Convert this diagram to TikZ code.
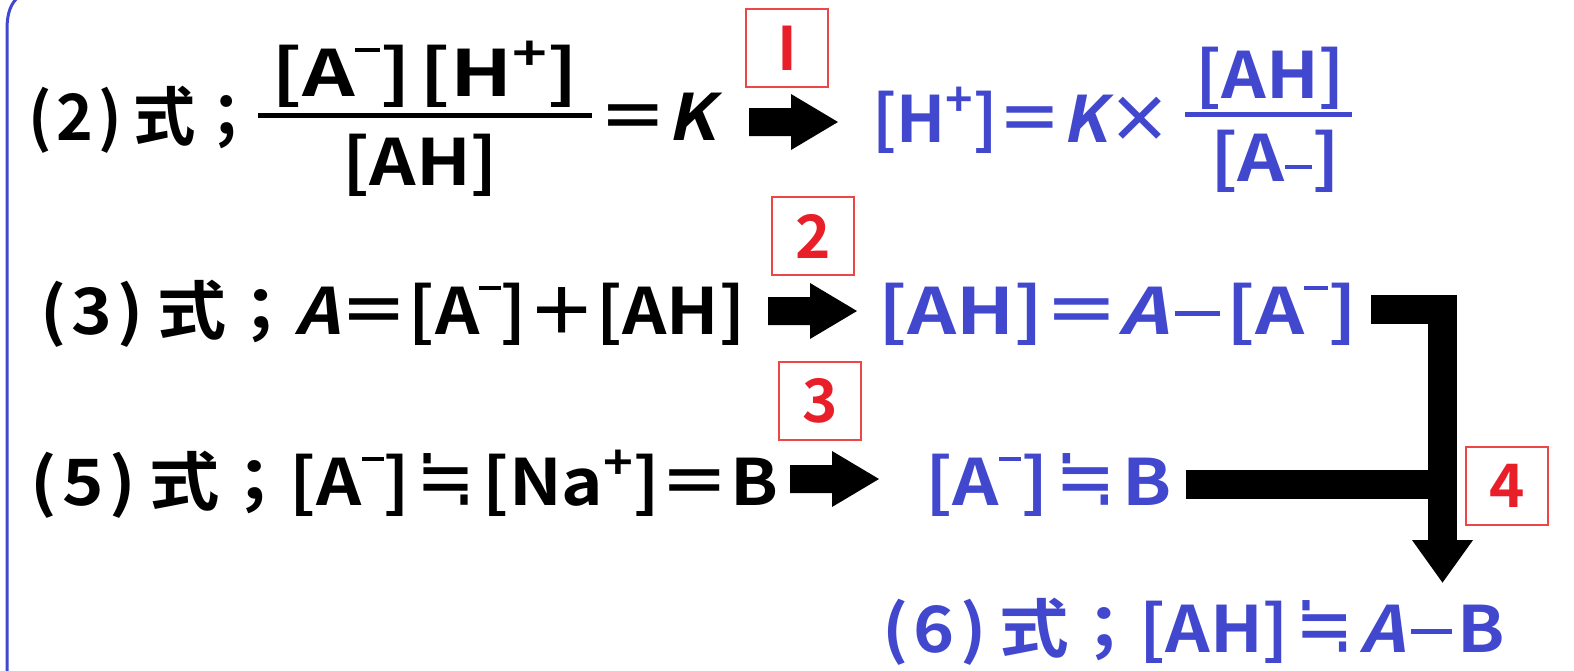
\documentclass[tikz,border=0pt]{standalone}
\usepackage{fontspec}
\usepackage{graphicx}
\usetikzlibrary{arrows.meta,calc}
\newfontfamily\jp{Noto Sans CJK JP Bold}
\newfontfamily\jpsl{Noto Sans CJK JP Bold}[FakeSlant=0.2]
\newfontfamily\dv{DejaVu Sans}
\newcommand\It[1]{{\jpsl #1}}
\newcommand\approxeq{\kern6pt\scalebox{1}[1.3]{\dv ≒}\kern6pt}
\newcommand\minusbar{\kern5pt\raisebox{18pt}{\rule{38pt}{5pt}}\kern5pt}
\newcommand\supminus{\raisebox{44pt}{\rule{20pt}{4pt}}}
\newcommand\supplus{\raisebox{26pt}{\fontsize{46}{46}\selectfont +}}
\newcommand\subminus{\raisebox{12pt}{\rule{24pt}{4pt}}}
\newcommand\lab[1]{(\kern5pt #1\kern5pt)\kern12pt式；}
\newcommand\fitw[2]{\resizebox{#1pt}{\height}{#2}}
\definecolor{tblue}{RGB}{66,72,206}
\definecolor{boxred}{RGB}{238,70,70}
\definecolor{numred}{RGB}{232,30,40}
\begin{document}
\begin{tikzpicture}[x=1pt,y=-1pt,
  txt/.style={inner sep=0pt, anchor=base west, font=\jp\fontsize{64}{64}\selectfont},
  redbox/.style={draw=boxred, line width=1.5pt, minimum width=82pt, minimum height=78pt,
     inner sep=0pt, text=numred, font=\jp\fontsize{60}{60}\selectfont},
  fracbar/.style={line width=5pt},
  conn/.style={line width=29pt, -{Triangle[length=43pt,width=58pt]}},
  connplain/.style={line width=29pt},
  bigarrow/.pic={\fill (0,-14) -- (42,-14) -- (42,-28) -- (89,0) -- (42,28) -- (42,14) -- (0,14) -- cycle;}]
\useasboundingbox (0,0) rectangle (1574,670);
\fill[white] (0,0) rectangle (1574,670);
% left blue border
\draw[tblue, line width=3pt] (7,672) -- (7,30) .. controls (7,12) and (11,4) .. (18,-3);
% row 1
\node[txt] (r1a) at (28,140) {\fitw{230}{\lab{2}}};
\node[txt] (f1n) at (271,96) {\fitw{307}{[A\supminus]\kern6pt[H\supplus]}};
\node[txt] (f1d) at (342,185) {\fitw{156}{[AH]}};
\draw[fracbar] (258,115) -- (592,115);
\node[txt] (r1b) at (598,140) {\fitw{117}{＝\It{K}}};
\pic at (749,122) {bigarrow};
\node[redbox] (b1) at (787,48) {I};
\node[txt,text=tblue] (r1c) at (872,142) {\fitw{300}{[H\supplus]＝\It{K}×}};
\node[txt,text=tblue] (f2n) at (1195,98) {\fitw{150}{[AH]}};
\draw[fracbar,tblue] (1185,114) -- (1352,114);
\node[txt,text=tblue] (f2d) at (1210,181) {\fitw{130}{[A\subminus]}};
% row 2
\node[txt] (r2a) at (40,334) {\fitw{705}{\lab{3}\It{A}＝[A\supminus]＋[AH]}};
\pic at (768,311) {bigarrow};
\node[redbox] (b2) at (813,236) {2};
\node[txt,text=tblue] (r2b) at (878,334) {\fitw{479}{[AH]＝\It{A}\minusbar[A\supminus]}};
% row 3
\node[txt] (r3a) at (30,505) {\fitw{748}{\lab{5}[A\supminus]\approxeq[Na\supplus]＝B}};
\pic at (790,479) {bigarrow};
\node[redbox] (b3) at (820,401) {3};
\node[txt,text=tblue] (r3b) at (925,505) {\fitw{247}{[A\supminus]\approxeq B}};
% row 4
\node[txt,text=tblue] (r4) at (882,652) {\fitw{623}{\lab{6}[AH]\approxeq\It{A}\minusbar B}};
\node[redbox] (b4) at (1507,486) {4};
% connectors
\coordinate (j1) at (1442.5,309.5);
\coordinate (j2) at (1442.5,484.5);
\coordinate (tip) at (1442.5,583);
\draw[conn] ($(r2b.east|-j1)+(14,0)$) -- (j1) -- (tip);
\draw[connplain] ($(r3b.east|-j2)+(14,0)$) -- (j2);
\end{tikzpicture}
\end{document}
